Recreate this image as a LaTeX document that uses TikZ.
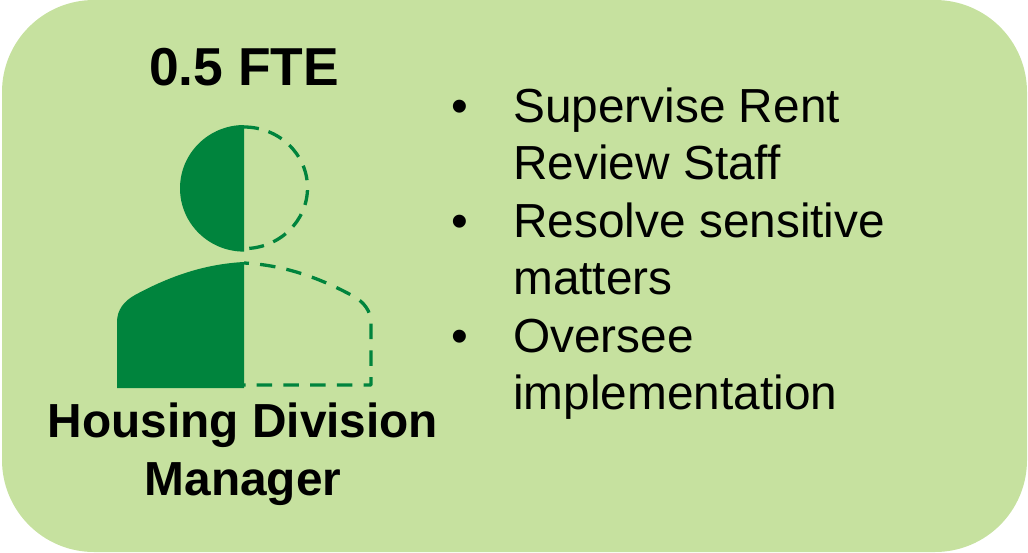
\documentclass[tikz,border=0pt]{standalone}
\usepackage{fontspec}
\setmainfont{Liberation Sans}
\definecolor{panel}{HTML}{C6E19F}
\definecolor{person}{HTML}{00843D}
\tikzset{
  x=1pt,y=-1pt,
  body text/.style={anchor=base west,inner sep=0pt,font=\fontsize{47.8}{57}\selectfont},
  bullet mark/.style={anchor=base,inner sep=0pt,font=\fontsize{47.8}{57}\selectfont},
  head text/.style={anchor=base,inner sep=0pt,font=\fontsize{47.8}{57}\selectfont\bfseries},
  big head/.style={anchor=base,inner sep=0pt,font=\fontsize{53.4}{60}\selectfont\bfseries},
  head outline/.style={draw=person,line width=3.3pt,dash pattern=on 15pt off 10pt},
  body outline/.style={draw=person,line width=3.3pt,line join=round,dash pattern=on 15.5pt off 11.2pt,dash phase=14pt},
}
\begin{document}
\begin{tikzpicture}
\useasboundingbox (0,0) rectangle (1028,552);
\fill[panel,rounded corners=92pt] (2,0) rectangle (1027,552);
% head
\fill[person] (244,125) arc[start angle=270,end angle=90,x radius=64,y radius=63.3] -- cycle;
\draw[head outline] (244,127) arc[start angle=270,end angle=450,x radius=63.5,y radius=60.8];
% body
\fill[person] (244,262) .. controls (205,264) and (170,276) .. (135,295)
  .. controls (124,301) and (117,310) .. (117,322) -- (117,388) -- (244,388) -- cycle;
\draw[body outline] (244,385) -- (371,385) -- (371,323)
  .. controls (371,311) and (364,302) .. (353,296)
  .. controls (318,277) and (283,265) .. (244,263);
% texts
\node[big head] (fte) at (244,85) {0.5 FTE};
\node[head text] (role1) at (243,437) {Housing Division};
\node[head text] (role2) at (243,495) {Manager};
\node[bullet mark] (b1) at (460,122) {•};
\node[body text] (t1) at (513,122) {Supervise Rent};
\node[body text] (t2) at (513,179) {Review Staff};
\node[bullet mark] (b2) at (460,237) {•};
\node[body text] (t3) at (513,237) {Resolve sensitive};
\node[body text] (t4) at (513,294) {matters};
\node[bullet mark] (b3) at (460,352) {•};
\node[body text] (t5) at (513,352) {Oversee};
\node[body text] (t6) at (513,409) {implementation};
\end{tikzpicture}
\end{document}
